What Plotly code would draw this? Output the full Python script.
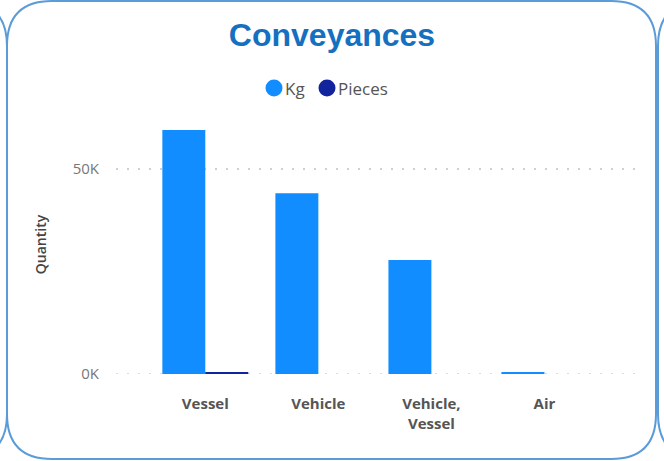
import plotly.graph_objects as go

# ----------------------------
# Data
# ----------------------------
categories = ["Vessel", "Vehicle", "Vehicle,<br>Vessel", "Air"]
kg_values = [59500, 44100, 27800, 450]
pieces_values = [420, 0, 0, 0]

y_tickvals = [0, 50000]
y_ticktext = ["0K", "50K"]

KG_COLOR = "#118DFF"
PIECES_COLOR = "#12239E"
BORDER = "#5A9BD8"
GRID = "#cfcfcf"

# ----------------------------
# Geometry (pixels)
# ----------------------------
W, H = 664, 461
L, R, T, B = 116, 28, 115, 87
pw, ph = W - L - R, H - T - B


def px(x, y):
    # pixel -> paper coords
    return (x - L) / pw, (H - B - y) / ph


def rounded_rect(x0, y0, x1, y1, r):
    def p(x, y):
        a, b = px(x, y)
        return f"{a:.5f},{b:.5f}"
    return " ".join([
        f"M {p(x0 + r, y0)}", f"L {p(x1 - r, y0)}",
        f"Q {p(x1, y0)} {p(x1, y0 + r)}", f"L {p(x1, y1 - r)}",
        f"Q {p(x1, y1)} {p(x1 - r, y1)}", f"L {p(x0 + r, y1)}",
        f"Q {p(x0, y1)} {p(x0, y1 - r)}", f"L {p(x0, y0 + r)}",
        f"Q {p(x0, y0)} {p(x0 + r, y0)} Z",
    ])


def circle(cx, cy, r, color):
    x0, y0 = px(cx - r, cy + r)
    x1, y1 = px(cx + r, cy - r)
    return dict(type="circle", xref="paper", yref="paper", x0=x0, y0=y0, x1=x1, y1=y1,
                fillcolor=color, line_width=0)


def label(x, y, text):
    a, b = px(x, y)
    return dict(xref="paper", yref="paper", x=a, y=b, text=text, showarrow=False,
                xanchor="left", yanchor="middle",
                font=dict(family="Segoe UI, Open Sans, sans-serif", size=17, color="#555555"))


fig = go.Figure()

fig.add_trace(go.Bar(x=categories, y=kg_values, name="Kg",
                     marker_color=KG_COLOR, marker_line_width=0))
fig.add_trace(go.Bar(x=categories, y=pieces_values, name="Pieces",
                     marker_color=PIECES_COLOR, marker_line_width=0))

ymax = (H - B - T) / 205 * 50000

fig.update_layout(
    width=W, height=H,
    margin=dict(l=L, r=R, t=T, b=B, autoexpand=False),
    paper_bgcolor="white",
    plot_bgcolor="white",
    barmode="group",
    bargap=0.24,
    bargroupgap=0,
    showlegend=False,
    font=dict(family="Segoe UI, Open Sans, sans-serif", color="#666666"),
    title=dict(text="<b>Conveyances</b>", x=0.5, xanchor="center",
               y=1 - 35 / H, yanchor="middle",
               font=dict(family="Liberation Sans, Arial, sans-serif", size=32, color="#1570C0")),
    annotations=[label(283, 88, "Kg"), label(336, 88, "Pieces")],
    xaxis=dict(range=[-0.79, 3.81], showgrid=False, zeroline=False, showline=False,
               ticks="", ticklabelstandoff=19,
               tickfont=dict(family="Open Sans, sans-serif", size=15,
                             color="#555555", weight="bold")),
    yaxis=dict(range=[0, ymax], tickvals=y_tickvals, ticktext=y_ticktext,
               showgrid=True, gridcolor=GRID, griddash="2px,9px", gridwidth=1.5,
               zeroline=False, showline=False, ticks="", ticklabelstandoff=16,
               tickfont=dict(size=15, color="#777777"),
               title=dict(text="Quantity", standoff=22,
                          font=dict(size=14, color="#444444", weight=600))),
    shapes=[
        dict(type="path", xref="paper", yref="paper", path=rounded_rect(7, 1, 656, 459, 45),
             line=dict(color=BORDER, width=2), layer="below"),
        dict(type="path", xref="paper", yref="paper", path=rounded_rect(-700, 1, 7, 459, 45),
             line=dict(color=BORDER, width=2), layer="below"),
        dict(type="path", xref="paper", yref="paper", path=rounded_rect(658, 1, 1400, 459, 45),
             line=dict(color=BORDER, width=2), layer="below"),
        circle(274, 88, 8.5, KG_COLOR),
        circle(327, 88, 8.5, PIECES_COLOR),
    ],
)

# dotted baseline grid at the 0K tick
fig.add_hline(y=y_tickvals[0], line=dict(color=GRID, width=1.5, dash="2px,9px"), layer="below")

fig.write_html("out.html", config={"displayModeBar": False},
               post_script="document.body.style.margin='0';")
